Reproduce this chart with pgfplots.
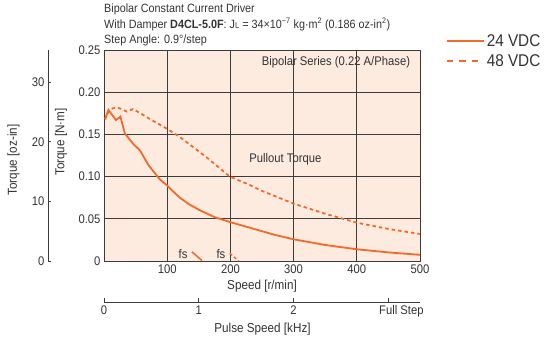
\documentclass[border=0pt]{standalone}
\usepackage{pgfplots}
\pgfplotsset{compat=1.18}
\usepackage{fontspec}
\setmainfont{Liberation Sans}[FakeStretch=0.9]

\definecolor{curve}{HTML}{F26A2A}
\definecolor{bg}{HTML}{FDEBE0}
\definecolor{gridc}{HTML}{3C3C3C}
\definecolor{txt}{HTML}{333333}

\newcommand{\fsz}[1]{\fontsize{#1}{#1}\selectfont}

\begin{document}
\begin{tikzpicture}
\useasboundingbox (0,0) rectangle (548pt,341pt);

% main torque axis
\begin{axis}[
    at={(104pt,80pt)}, anchor=south west,
    scale only axis, width=316pt, height=211pt,
    xmin=0, xmax=500, ymin=0, ymax=0.25,
    xtick={100,200,300,400,500},
    ytick={0,0.05,0.1,0.15,0.2,0.25},
    yticklabels={0,0.05,0.10,0.15,0.20,0.25},
    grid=major, grid style={gridc, line width=0.8pt},
    major tick length=0pt,
    axis line style={gridc, line width=0.8pt},
    axis background/.style={fill=bg},
    tick label style={font=\fsz{12.5}, text=txt},
    /pgf/number format/assume math mode=true,
    legend style={at={(axis description cs:1.072,1.095)}, anchor=north west,
        draw=none, fill=none, font=\fsz{17}, text=txt,
        row sep=3pt},
    legend image code/.code={\draw[#1] (0pt,0pt) -- (37pt,0pt);},
    legend cell align=left,
]
% 24 VDC
\addplot[curve, line width=1.8pt, forget plot] coordinates {
    (1.6,0.168) (7,0.179) (13,0.173) (19,0.167) (26,0.171) (33,0.151)
    (46,0.139) (57,0.131) (70,0.114) (88,0.097) (99,0.090) (110,0.082)
    (120,0.075) (135,0.067) (152,0.060) (175,0.052) (200,0.046)
    (233,0.039) (270,0.031) (300,0.0257) (350,0.019) (400,0.0139)
    (450,0.0102) (500,0.0073)
};
% 48 VDC
\addplot[curve, line width=1.8pt, dash pattern=on 3.5pt off 3pt, forget plot] coordinates {
    (1.6,0.168) (9.5,0.180) (20,0.182) (28,0.180) (36,0.177) (46,0.180)
    (60,0.174) (73,0.168) (99,0.157) (120,0.147) (162,0.123) (199,0.100)
    (231,0.090) (247,0.084) (300,0.068) (350,0.056) (400,0.0454)
    (450,0.038) (500,0.032)
};
% fs markers
\addplot[curve, line width=1.5pt, forget plot] coordinates {(139,0.011) (155,0.0005)};
\addplot[curve, line width=1.5pt, dash pattern=on 3pt off 2.5pt, forget plot] coordinates {(199,0.0091) (213,0)};
\node[font=\fsz{12.5}, text=txt] at (axis cs:125,0.0085) {fs};
\node[font=\fsz{12.5}, text=txt] at (axis cs:185,0.0085) {fs};

\addlegendimage{curve, line width=1.8pt}
\addlegendentry{24 VDC}
\addlegendimage{curve, line width=1.8pt, dash pattern=on 6.5pt off 6pt}
\addlegendentry{48 VDC}

\node[font=\fsz{12.5}, text=txt] at (axis cs:367,0.236) {Bipolar Series (0.22 A/Phase)};
\node[font=\fsz{12.5}, text=txt] at (axis cs:287,0.120) {Pullout Torque};
\end{axis}

% oz-in scale
\begin{axis}[
    at={(48pt,80pt)}, anchor=south west,
    scale only axis, width=10pt, height=211pt,
    xmin=0, xmax=1, ymin=0, ymax=35.4,
    axis y line*=left, axis x line=none,
    ytick={0,10,20,30},
    tick align=inside, major tick length=3pt,
    axis line style={gridc, line width=0.8pt},
    tick style={gridc, line width=0.8pt},
    tick label style={font=\fsz{12.5}, text=txt},
    /pgf/number format/assume math mode=true,
]
\end{axis}

% pulse speed scale
\begin{axis}[
    at={(104pt,39pt)}, anchor=south west,
    scale only axis, width=316pt, height=10pt,
    xmin=0, xmax=3.3333, ymin=0, ymax=1,
    axis x line*=bottom, axis y line=none,
    xtick={0,1,2,3},
    xticklabels={0,1,2,\hspace*{26pt}Full Step},
    tick align=inside, major tick length=4pt,
    axis line style={gridc, line width=0.8pt},
    tick style={gridc, line width=0.8pt},
    tick label style={font=\fsz{12.5}, text=txt},
    /pgf/number format/assume math mode=true,
]
\end{axis}

% labels
\node[rotate=90, font=\fsz{13}, text=txt] at (13.5pt,181pt) {Torque [oz-in]};
\node[rotate=90, font=\fsz{13}, text=txt] at (61pt,199pt) {Torque [N·m]};
\node[font=\fsz{13}, text=txt] at (262pt,55pt) {Speed [r/min]};
\node[font=\fsz{13}, text=txt] at (262.5pt,12pt) {Pulse Speed [kHz]};

% title block
\node[anchor=base west, inner sep=0pt, font=\fsz{12}, text=txt] at (104pt,328.7pt)
    {Bipolar Constant Current Driver};
\node[anchor=base west, inner sep=0pt, font=\fsz{12}, text=txt] at (104pt,312.7pt)
    {With Damper \textbf{D4CL-5.0F}: J{\fsz{8.5}L} = 34×10\textsuperscript{−7} kg·m\textsuperscript{2} (0.186 oz-in\textsuperscript{2})};
\node[anchor=base west, inner sep=0pt, font=\fsz{12}, text=txt] at (104pt,297.7pt)
    {Step Angle: 0.9°/step};
\end{tikzpicture}
\end{document}
